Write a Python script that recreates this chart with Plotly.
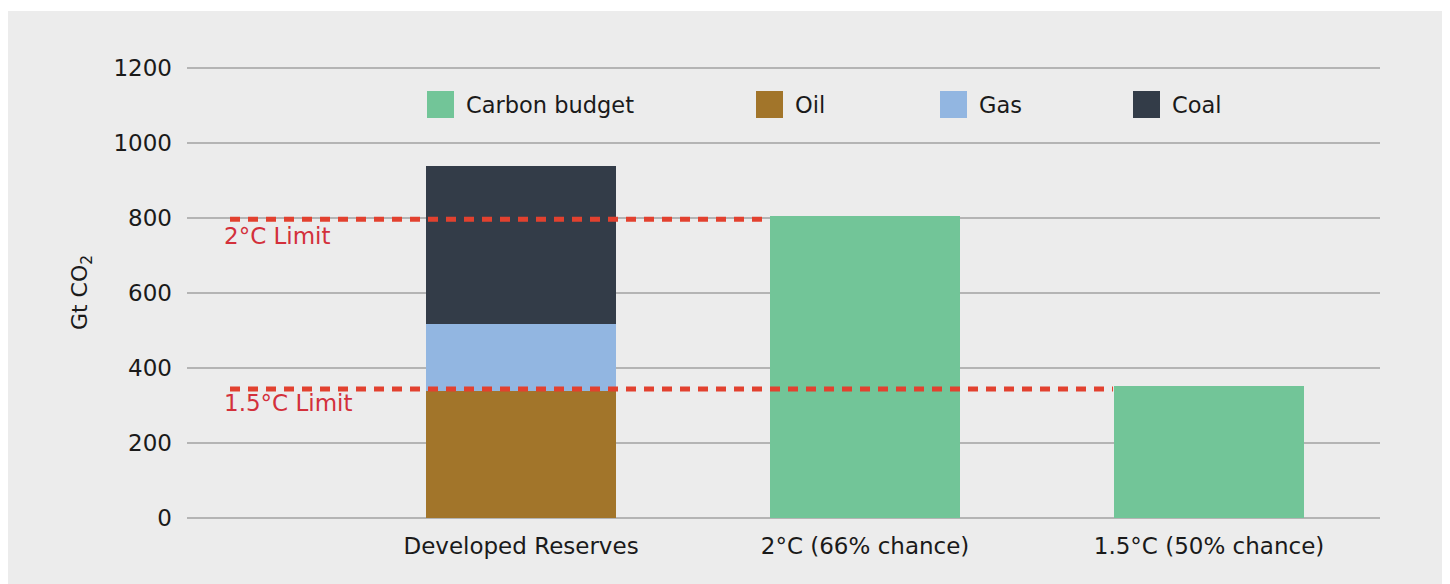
import plotly.graph_objects as go

CATEGORIES = ["Developed Reserves", "2°C (66% chance)", "1.5°C (50% chance)"]
OIL = [338]
GAS = [179]
COAL = [423]
CARBON_BUDGET = [806, 352]
LIMIT_NAMES = ["2°C Limit", "1.5°C Limit"]
LIMIT_VALUES = [797, 344]
Y_TICKS = [0, 200, 400, 600, 800, 1000, 1200]

COLORS = {
    "Carbon budget": "#72c598",
    "Oil":           "#a2752a",
    "Gas":           "#92b6e1",
    "Coal":          "#333c48",
}
LIMIT_LINE = "#e2412f"
LIMIT_TEXT = "#d3303b"
BG = "#ececec"
FONT = "DejaVu Sans"

# page is 1450x584 but the plot div sits 8px in from the body margin
OFF = 8
W, H = 1450 - OFF, 584 - OFF
L, R, T, B = 187 - OFF, 70, 67 - OFF, 66
PW, PH = W - L - R, H - T - B


def px(x):
    return (x - OFF - L) / PW


def py(y):
    return (H - B - (y - OFF)) / PH


xs = list(range(len(CATEGORIES)))

fig = go.Figure()
for name, vals, pos in [("Oil", OIL, xs[:1]), ("Gas", GAS, xs[:1]),
                        ("Coal", COAL, xs[:1]), ("Carbon budget", CARBON_BUDGET, xs[1:])]:
    fig.add_trace(go.Bar(x=pos, y=vals, name=name, width=0.552,
                         marker=dict(color=COLORS[name], line=dict(width=0))))

# limit lines: start left of first bar, end at the next bar's edge
line_ends = [0.709, 1.721]
label_shift = [-17, -14]
annotations = []
for name, val, x1, sh in zip(LIMIT_NAMES, LIMIT_VALUES, line_ends, label_shift):
    fig.add_trace(go.Scatter(x=[-0.846, x1], y=[val, val], mode="lines",
                             line=dict(color=LIMIT_LINE, width=5, dash="10px,8px"),
                             hoverinfo="skip"))
    annotations.append(dict(x=-0.869, y=val, xref="x", yref="y", text=name,
                            showarrow=False, xanchor="left", yanchor="middle",
                            yshift=sh, font=dict(family=FONT, size=23, color=LIMIT_TEXT)))

# hand-drawn legend with large square keys
shapes = [dict(type="rect", xref="paper", yref="paper", layer="below",
               x0=px(7), x1=px(1447), y0=py(600), y1=py(11),
               fillcolor=BG, line=dict(width=0))]
legend_x = [427, 756, 940, 1133]
for name, lx in zip(["Carbon budget", "Oil", "Gas", "Coal"], legend_x):
    shapes.append(dict(type="rect", xref="paper", yref="paper",
                       x0=px(lx), x1=px(lx + 27), y0=py(118), y1=py(91),
                       fillcolor=COLORS[name], line=dict(width=0)))
    annotations.append(dict(x=px(lx + 37), y=py(104.5), xref="paper", yref="paper",
                            text=name, showarrow=False, xanchor="left", yanchor="middle",
                            font=dict(family=FONT, size=22.5, color="#1a1a1a")))

fig.update_layout(
    width=W, height=H,
    barmode="stack",
    showlegend=False,
    paper_bgcolor="white",
    plot_bgcolor="rgba(0,0,0,0)",
    font=dict(family=FONT, size=23, color="#1a1a1a"),
    margin=dict(l=L, r=R, t=T, b=B, autoexpand=False),
    shapes=shapes,
    annotations=annotations,
    xaxis=dict(range=[-0.971, 2.497], tickvals=xs, ticktext=CATEGORIES,
               showgrid=False, zeroline=False, ticklabelstandoff=12),
    yaxis=dict(range=[0, 1203], tickvals=Y_TICKS, showgrid=True,
               gridcolor="#b4b4b4", gridwidth=1.5, zeroline=True,
               zerolinecolor="#b4b4b4", zerolinewidth=2, ticklabelstandoff=14,
               title=dict(text="Gt CO<sub>2</sub>", font=dict(size=22), standoff=19)),
)

fig.write_html("out.html")
